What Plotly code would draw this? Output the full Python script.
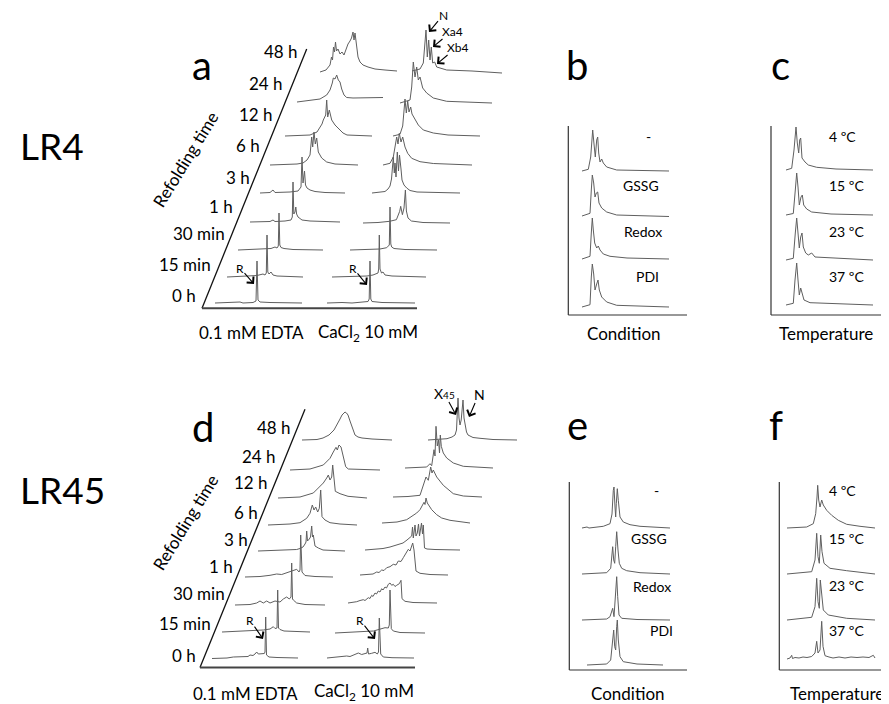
import plotly.graph_objects as go

FONT = "Lato, 'Open Sans', sans-serif"

# ---------------- labels ----------------
TIME_LABELS = ["0 h", "15 min", "30 min", "1 h", "3 h", "6 h", "12 h", "24 h", "48 h"]
CONDITION_LABELS = ["-", "GSSG", "Redox", "PDI"]
TEMPERATURE_LABELS = ["4 ºC", "15 ºC", "23 ºC", "37 ºC"]

# ---------------- chromatograms ----------------
# each trace: list of (retention, absorbance) pairs in relative units
# refolding series are ordered 0 h -> 48 h, condition/temperature series top -> bottom

LR4_EDTA = [
    [(0,0),(12,0.5),(16,0),(25,1),(28,0),(38,0.5),(41,2),(42,42),(43,3),(45,1),(55,0.5),(70,0),(87,0)],
    [(0,0),(10,0.5),(20,0.5),(30,1.5),(36,3),(38,2),(39.3,4),(40,42),(40.8,5),(42,3),(44,5),(46,2),(50,1),(60,0.5),(76,0)],
    [(0,0),(15,0.5),(25,0.5),(33,1.5),(37,3),(39,2),(40.3,4),(41,37),(41.8,5),(43,2.5),(46,1.5),(55,0.5),(85,0)],
    [(0,0),(20,0.5),(23,2),(25,0.5),(35,1),(41,2),(42.3,5),(43,40),(43.8,8),(45,10),(45.8,15),(46.6,8),(48,5),(52,2),(60,1),(90,0)],
    [(0,0),(10,0.5),(13,3),(15,0.5),(30,1),(38,2),(41,6),(42,36),(43,10),(44.5,22),(45.5,8),(47,5),(50,3),(55,1.5),(65,0.5),(85,0)],
    [(0,0),(20,0.5),(27,1),(33,2),(37,5),(40,10),(41.7,28),(42.7,18),(44,33),(45.3,21),(46.7,27),(48.3,13),(51.7,7),(56.7,3),(65,1),(88,0)],
    [(0,0),(18,0.5),(25,1),(32,4),(37,12),(38.3,16),(40.7,21),(41.7,36),(42.7,19),(44.3,26),(46.7,16),(50,11),(55,6),(58,3),(62,1),(87,0)],
    [(0,-2),(13,-0.5),(23,1),(29.7,5),(33,10),(35.3,17),(36.3,22),(38,21),(39.7,25),(41.3,20),(43,18),(44.7,11),(47,5),(49.7,2.5),(56,2),(86,2.5)],
    [(0,-1),(6,1),(10,6),(11.5,14),(12.5,11),(13.5,24),(14.5,19),(15.5,29),(16.5,20),(18,22),(20,17),(22,19),(24,16),(26,22),(28,27),(30,30),(31.5,33),(33,39),(34,31),(35,38),(36.5,26),(38,14),(40,9),(43,6),(48,4),(55,2),(65,1),(77,0)],
]

LR4_CACL2 = [
    [(0,0),(15,0.5),(25,0),(35,0.5),(41,1.5),(42.2,4),(43,42),(43.8,4),(45,1.5),(55,0.5),(88,0)],
    [(0,0),(20,0.5),(35,1),(41,2),(44,3),(46,4),(46.7,8),(47.3,42),(48,8),(49.5,4),(51,5),(53,2),(60,1),(94,0)],
    [(0,0),(20,0.5),(30,1),(36.7,2.3),(38.3,4.3),(39.3,5),(40,43),(40.8,6),(41.7,3),(44,1.5),(55,0.5),(87,0)],
    [(0,0),(15,0.5),(26.7,1.7),(33.4,3.3),(36.7,11.7),(37.7,16.7),(39.4,8.3),(41,15),(42.4,33),(43.4,12),(45,5),(48.4,2),(60,0.5),(87,0)],
    [(0,0),(8,0.5),(13,1.5),(16,4),(18,7),(19.5,14),(21.3,36),(22.3,20),(23,30),(24,16),(25.3,41),(26.5,22),(27.5,38),(29,24),(30,13),(32,8),(34.7,5),(38,2.5),(45,1),(88,0)],
    [(0,0),(7,1.7),(10.3,8),(12,18),(13.7,28),(15,21),(16.3,31.7),(18,23),(19.7,28),(22,18),(24.7,11.7),(28.7,6.7),(37,3.3),(50.3,1.5),(89,0)],
    [(0,0),(7,1.7),(9.7,10),(11,26),(12,37),(13.3,23),(14.7,35),(16,24),(17.7,29),(19,22),(22,17),(25.3,11),(30.3,6),(40.3,3),(55,1),(87,0)],
    [(0,0),(10,3),(11.7,16),(13.3,41),(15,26),(16.7,36),(18.3,23),(20,26),(22.7,15),(26.7,10),(33.3,5),(46.7,1.7),(92,0)],
    [(0,0),(8,2),(11.3,8),(13,28),(14,41),(15.3,14),(16.7,31),(18,11),(19.3,24),(20.7,8),(22.7,9),(24.7,4),(34.7,1),(60,0),(90,-2)],
]

LR4_CONDITION = [
    [(0,0),(6.3,1.7),(8.7,14),(9.7,34),(10.7,41),(12,27),(13.3,14),(14.7,31),(15.7,34),(16.7,18),(18,9),(19.7,12),(21.3,8),(24.7,4),(34.7,1),(87,0)],
    [(0,0),(8,2.7),(9.3,26),(10.3,41),(11.7,33),(13,19),(14.3,23),(15.7,24),(17,13),(19.7,8),(24.7,4),(34.7,1),(87,-0.5)],
    [(0,0),(8,2.7),(9.3,26),(10.3,41),(11.3,29),(12.7,16),(14.7,11),(16.3,13),(18,9),(21.3,5),(28,2.7),(45,1),(87,0)],
    [(0,0),(8,2.3),(9.3,30),(10.3,43),(11.7,33),(13,17),(14.7,23),(16,27),(17.3,17),(19.7,10),(24.7,5),(34.7,1.7),(87,0)],
]

LR4_TEMPERATURE = [
    [(0,0),(5.7,1.7),(8,20),(9,38),(10,43),(11.3,27),(12.7,17),(13.7,30),(14.7,32),(16,12),(17.3,10),(19,8),(22.3,5),(30.7,2.7),(50,1),(87,0)],
    [(0,0),(7.3,1.5),(9.3,25),(10.7,42),(12,28),(13.3,10),(15,18),(16.3,20),(17.7,10),(20.7,6),(25.7,3),(45,1),(87,0)],
    [(0,0),(7.3,1.7),(9.3,27),(10.7,42),(12,27),(13.3,12),(14.7,23),(16,27),(17.3,13),(19.7,7),(22.3,5),(25.7,7),(29,3),(55,1.7),(87,0)],
    [(0,0),(7.3,1.7),(9,25),(10.7,42),(12,25),(13.3,10),(14.7,17),(16,12),(18,5),(24,2.3),(87,0)],
]

LR45_EDTA = [
    [(0,-0.5),(15,0),(21.3,1),(28,1.5),(33,2),(36,1.5),(38,3),(41,2.5),(43,4),(44.7,6),(46.3,4),(49.7,4),(52.3,4.5),(53,6),(53.7,41),(54.5,3),(57,1),(65,0.5),(86,0)],
    [(0,0),(15,0.5),(28,1),(35,1.5),(41.3,2),(48,3),(51.3,5.3),(53,3.5),(55,4),(55.7,42),(56.5,4),(58,2.5),(62,1),(75,0.5),(88,0)],
    [(0,0),(15,0.5),(21.7,2),(25,4),(28.3,2),(31.7,4),(35,2),(40,4),(45,3),(48.3,6),(51.7,8),(54.3,6),(56,8),(56.7,42),(57.5,6),(58.3,5),(61.7,2),(70,0.5),(90,0)],
    [(0,0),(15,0.5),(25,1.7),(31.7,3),(36.7,2.5),(41.7,4.3),(48.3,6),(51.7,7.7),(54,5),(55,7),(55.7,42),(56.5,6),(57,5),(60,1.5),(70,0.5),(88,0)],
    [(0,0),(20,0.5),(30,1),(38.7,1.5),(42,2.5),(45,4),(47,7),(48,9),(48.7,20),(49.5,10),(51.3,12),(52.5,14),(53.7,25),(54.5,14),(55.3,16),(56,8),(57,5),(60.3,3),(65,1),(87,0)],
    [(0,0),(22,1),(32,2.3),(38.7,6.7),(42,11.7),(44.3,20),(46,15),(47.7,18),(49.7,13),(51.3,16.7),(52.7,35),(54,8.3),(57,5),(62,2.3),(72,1),(89,0)],
    [(0,0),(22,1),(35.3,5),(40.3,10),(45.3,15),(48.7,20),(50.3,23),(52,18),(53.7,21),(54.7,33),(56,15),(57.3,6.7),(62,4.3),(70,1.7),(89,0)],
    [(0,0),(20,1),(33.3,5),(40,11.7),(43.3,18),(46,22.7),(47.3,20),(49,25),(51,23),(52.7,15),(54.3,10),(55.7,3.3),(58.3,1),(90,0)],
    [(0,0),(15,0.5),(21,2),(27,5),(32,10),(35,15),(38,21),(40,25),(42,27.5),(43,28),(44.5,27),(46,25),(48,19),(50,13),(52,8),(53,5),(56,3),(60,2),(70,1),(90,0)],
]

LR45_CACL2 = [
    [(0,0),(13,1),(19.7,2),(23,1.5),(26.3,3),(31.3,5),(34.7,3.5),(38,4),(40,5),(40.7,10),(41.5,4),(44.7,4.7),(48,5.7),(50.3,4),(51.5,6),(52.3,40),(53,6),(53.7,4),(56.3,1),(65,0.3),(87,0)],
    [(0,0),(12,0.5),(25,1),(38.3,2),(42,3),(46.7,4.3),(50,5.3),(53.3,5),(54.3,8),(55,43),(55.7,6),(56.3,4.3),(58.3,2),(65,0.5),(90,0)],
    [(0,0),(5,0.5),(8.7,1.3),(12,2.5),(15.3,3.3),(17,2.5),(20.3,5.3),(22,4.5),(23.7,7.7),(25,6.5),(27,10),(28.5,9),(30.3,12),(32,11),(33.7,14.3),(35,13),(37,16),(38.5,15),(40.3,18.7),(42,20),(43.7,17.7),(45.3,18.7),(47,16.5),(48.7,17.7),(51.3,19.3),(53,22.7),(54,4.3),(57,1.7),(65,0.5),(89,0)],
    [(0,0),(10,1.3),(13,1),(16.7,3),(19,2.5),(21.7,5),(24,4.5),(26.7,7.3),(30,8.3),(33.3,10.7),(36,10),(38.3,14),(41,13.5),(43.3,17.3),(46.7,22.3),(48.3,25.7),(50,24),(52.7,32),(54,25),(56,4),(60,1.7),(70,0.5),(88,0)],
    [(0,0),(10,0.5),(18,1.5),(25,3),(32,5),(38,7),(42,10),(46.7,14),(47.5,23),(48.3,12),(50,25),(51,14),(52.3,17),(53.5,26),(54.5,14),(55.5,22),(56.5,27),(57.5,16),(58.3,25),(59.5,2),(62,1),(70,0.5),(95,0)],
    [(0,0),(15,1),(24.7,3.3),(29.7,6.7),(34.7,10),(38,13.3),(39.7,16.7),(42,20.7),(43,18.5),(44,25),(45.3,20),(47.3,16.7),(49.7,13.3),(54.7,8.3),(59.7,5),(68,2.7),(88,0)],
    [(0,0),(15,0.5),(27,1.7),(30.3,11.7),(33,20),(35.3,16.7),(37.7,30),(39,24),(40.3,27),(43.7,20),(50.3,11.7),(60.3,3.3),(70.3,1),(89,0)],
    [(0,0),(15,0.5),(21.7,1),(25,4.3),(26.7,2.3),(29,18.3),(30,12),(31,41.7),(32.3,22),(33.5,28),(34.5,15),(35.3,33),(36.3,21.7),(38.3,15),(41.7,10),(48.3,5),(58.3,1.7),(88,0)],
    [(0,0),(10,0.5),(19,1.3),(24,3),(27,5),(28.5,10),(29.2,27),(30,42),(31,22),(32,15),(33.2,20),(34,30),(35,40),(36,22),(37,15),(38.5,8),(40,5),(45,2.5),(52,1.7),(65,0.5),(89,0)],
]

LR45_CONDITION = [
    [(0,0),(5,1),(7,0),(21.3,1.7),(28,4.3),(30,14),(31.3,37.7),(32,41),(33,21),(33.7,11),(34.3,24.3),(35.3,39.3),(36.3,27.7),(38,11),(41.3,6),(48,3.3),(58,1.7),(88,0)],
    [(0,0),(24.7,1.3),(28.7,5.7),(30,20.7),(30.7,27.3),(31.7,14),(32.7,10.7),(33.7,27.3),(34.7,42.3),(36,24),(37.3,10.7),(39.7,5.7),(44.7,3.3),(58,1.3),(88,0)],
    [(0,0),(24.7,1),(28,3.3),(29.7,8.3),(30.7,11.7),(32,3.3),(33.3,20),(34.7,43.3),(35.7,23.3),(37,5),(39.7,1.7),(55,0.5),(88,0)],
    [(0,0),(19.7,1),(23.7,5),(25.3,18.3),(26.7,35),(27.7,18.3),(28.7,15),(29.7,38.3),(30.3,45),(31.3,25),(33,8.3),(36.3,3.3),(50,1),(76,0)],
]

LR45_TEMPERATURE = [
    [(0,0),(19.7,1),(26.3,4.3),(28.7,14.3),(30,31),(30.7,42.7),(31.7,28),(33,21),(34.7,28),(36.3,23),(39.7,17.7),(44.7,12.7),(51.3,7.7),(59.7,3.7),(73,1.7),(88,0)],
    [(0,0),(24.7,2.3),(28,14),(29.7,40.7),(31,17.3),(32.3,10.7),(33.7,39),(35,22.3),(37,10.7),(43,5.7),(59.7,3.3),(88,0)],
    [(0,0),(24.7,2.7),(28,13.3),(29.7,41.7),(31,18.3),(32.3,11.7),(33.3,40),(34.7,23.3),(36.3,10),(41.3,5),(59.7,1.7),(88,0)],
    [(0,-1),(3,0),(4.7,2.7),(5.5,-0.5),(8,0.5),(12,0),(16,1),(20,0.5),(24.7,1.5),(28,5),(29.7,16.7),(31,5),(33,8),(34.7,36.7),(36,11.7),(38,2.3),(42,1),(46,0),(52,1),(58,0),(64,1),(70,0.5),(76,1),(82,0.5),(86.3,2.7),(88,0)],
]

# ---------------- layout geometry (page pixels) ----------------
# the page body has an 8 px default margin, so the figure covers page pixels 8..889 / 8..704
PAGE_W, PAGE_H, BODY_MARGIN = 889, 704, 8
TRACE_COLOR = "#5f5f5f"

STACKS = [
    # (series, start x per row, baseline y per row)
    (LR4_EDTA, [215, 227, 238, 250, 260, 270, 285, 297, 320], [303, 277, 250, 222, 193, 165, 136, 100, 71]),
    (LR4_CACL2, [327, 332, 350, 363, 372, 383, 393, 400, 412], [303, 277, 250, 223, 193, 165, 136, 103, 71]),
    (LR4_CONDITION, [582] * 4, [171, 216, 259, 307]),
    (LR4_TEMPERATURE, [786] * 4, [170, 215, 260, 305]),
    (LR45_EDTA, [212, 222, 235, 245, 258, 268, 278, 290, 302], [658, 632, 605, 577, 551, 525, 498, 470, 440]),
    (LR45_CACL2, [327, 335, 348, 360, 365, 382, 393, 405, 428], [658, 633, 603, 575, 550, 523, 497, 468, 440]),
    (LR45_CONDITION, [582, 582, 582, 587], [528, 574, 620, 665]),
    (LR45_TEMPERATURE, [787] * 4, [528, 574, 620, 658]),
]

fig = go.Figure()

for series, xs0, ys0 in STACKS:
    for trace, x0, y0 in zip(series, xs0, ys0):
        fig.add_trace(go.Scatter(
            x=[x0 + r for r, a in trace],
            y=[y0 - a for r, a in trace],
            mode="lines",
            line=dict(color=TRACE_COLOR, width=1),
            hoverinfo="skip",
            showlegend=False,
        ))

shapes = []

def seg(x0, y0, x1, y1, color="#111", width=1.3):
    shapes.append(dict(type="line", xref="x", yref="y", x0=x0, y0=y0, x1=x1, y1=y1,
                       line=dict(color=color, width=width)))

# refolding panels: diagonal + base line
seg(306.7, 49, 202, 308.3)
seg(202, 308.3, 417, 308.3, color="#444", width=2)
seg(305, 409.3, 200, 667.5)
seg(200, 667.5, 415, 667.5, color="#444", width=2)
# condition / temperature panel axes
for xv, xr, yt, yb in [(568.3, 687, 126, 315), (771, 889, 126, 315),
                       (569.3, 687, 482, 670), (779.3, 889, 482, 670)]:
    seg(xv, yt, xv, yb, color="#333", width=1.2)
    seg(xv, yb, xr, yb, color="#333", width=1.2)

annotations = []

def text(x, y, s, size, xanchor="center", angle=0):
    annotations.append(dict(x=x, y=y, xref="x", yref="y", text=s, showarrow=False,
                            xanchor=xanchor, yanchor="middle", textangle=angle,
                            font=dict(family=FONT, size=size, color="#000")))

def pointer(label, size, lx, ly, hx, hy):
    # label centred at (lx, ly) with an open arrow pointing to the peak at (hx, hy)
    annotations.append(dict(x=hx, y=hy, ax=lx, ay=ly, xref="x", yref="y", axref="x", ayref="y",
                            text=label, showarrow=True, arrowhead=4, arrowsize=1.6,
                            arrowwidth=1.1, arrowcolor="#000", standoff=0, startstandoff=0,
                            borderpad=0,
                            font=dict(family=FONT, size=size, color="#000")))

# big labels
text(18, 145, "LR4", 37, xanchor="left")
text(18, 489, "LR45", 37, xanchor="left")
for (x, y, s) in [(202, 64.5, "a"), (577, 64.5, "b"), (780, 64.5, "c"),
                  (203, 427, "d"), (577, 424.5, "e"), (776, 424.5, "f")]:
    text(x, y, s, 40)

# time labels
A_TIME_RIGHT = [198.3, 213.3, 226.7, 235, 251.7, 261.7, 275, 285, 300]
A_TIME_Y = [295, 264, 233.3, 206.7, 177, 145.7, 114.5, 83, 51.7]
D_TIME_RIGHT = [198.3, 213.3, 226.7, 235, 250, 260, 270, 278.3, 293.3]
D_TIME_Y = [655, 623.7, 593, 566, 539, 512, 482, 456.3, 427]
for lab, xr, y in zip(TIME_LABELS, A_TIME_RIGHT, A_TIME_Y):
    text(xr, y, lab, 17, xanchor="right")
for lab, xr, y in zip(TIME_LABELS, D_TIME_RIGHT, D_TIME_Y):
    text(xr, y, lab, 17, xanchor="right")

text(185, 159, "Refolding time", 17, angle=-58.5)
text(185, 522, "Refolding time", 17, angle=-58.5)

text(251, 332, "0.1 mM EDTA", 17)
text(368, 333, "CaCl<sub>2</sub> 10 mM", 17)
text(245, 693, "0.1 mM EDTA", 17)
text(364, 692, "CaCl<sub>2</sub> 10 mM", 17)

# condition / temperature row labels
for lab, (x, y) in zip(CONDITION_LABELS, [(648.3, 136.7), (640.5, 185), (643, 231.7), (647.5, 276.7)]):
    text(x, y, lab, 14)
for lab, (x, y) in zip(TEMPERATURE_LABELS, [(842.5, 136.7), (846.5, 185), (846.5, 231.7), (846.5, 276.7)]):
    text(x, y, lab, 14)
for lab, (x, y) in zip(CONDITION_LABELS, [(656.2, 490.7), (649, 538.3), (651.7, 586), (661, 630)]):
    text(x, y, lab, 14)
for lab, (x, y) in zip(TEMPERATURE_LABELS, [(842, 490), (846.7, 538), (846.7, 585), (846.7, 630)]):
    text(x, y, lab, 14)

text(624, 333, "Condition", 17)
text(826, 333, "Temperature", 17)
text(628, 693, "Condition", 17)
text(836.5, 693, "Temperature", 17)

# peak annotations (label + arrow)
pointer("R", 12, 240, 268, 254, 284)
pointer("R", 12, 353, 268, 367, 285)
pointer("N", 12, 443, 15, 429, 32)
pointer("Xa4", 12, 452, 31, 433, 47)
pointer("Xb4", 12, 457, 47, 437, 64)
pointer("R", 12, 250, 620, 263, 639)
pointer("R", 12, 360, 620, 375, 639)
pointer("X<span style='font-size:10px'>45</span>", 14, 444, 393, 456, 415)
pointer("N", 14, 479, 394, 469, 417)

fig.update_layout(
    width=PAGE_W - BODY_MARGIN, height=PAGE_H - BODY_MARGIN,
    margin=dict(l=0, r=0, t=0, b=0),
    paper_bgcolor="white", plot_bgcolor="white",
    xaxis=dict(range=[BODY_MARGIN, PAGE_W], visible=False, fixedrange=True),
    yaxis=dict(range=[PAGE_H, BODY_MARGIN], visible=False, fixedrange=True),
    shapes=shapes,
    annotations=annotations,
    showlegend=False,
    font=dict(family=FONT),
)

fig.write_html("out.html")
